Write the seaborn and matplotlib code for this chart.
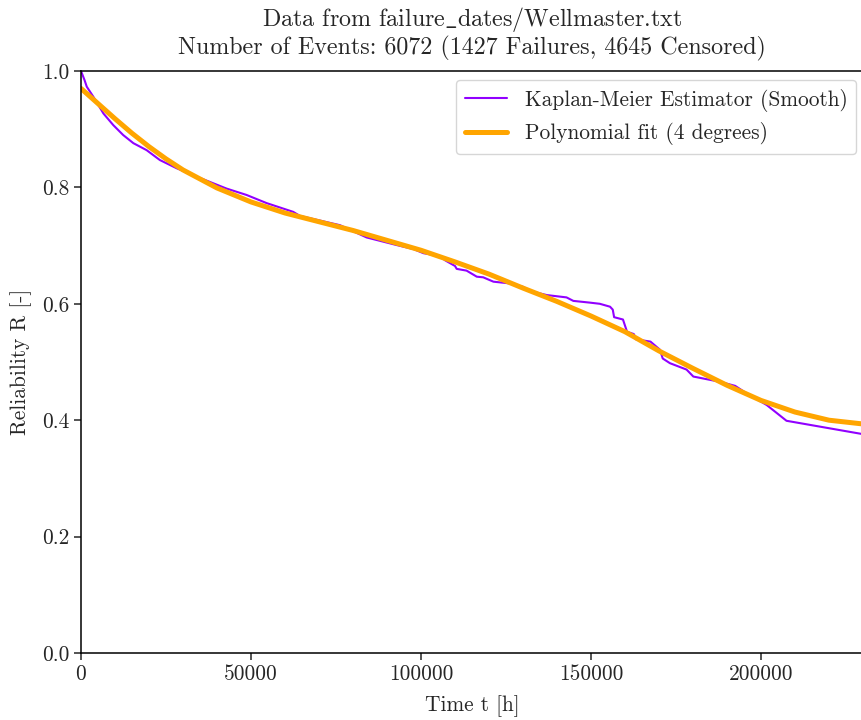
import numpy as np
import pandas as pd
import matplotlib
matplotlib.use("Agg")
import matplotlib.pyplot as plt
import seaborn as sns

# Kaplan-Meier estimator (smoothed)
km_time = [0, 1000, 1700, 3600, 6600, 9500, 12400, 15400, 19300, 23200, 28100,
           33000, 37000, 42800, 48700, 54600, 62400, 64400, 76200, 84000, 92800,
           97800, 100700, 105600, 107000, 110000, 110500, 113400, 116400, 118300,
           121300, 126200, 130100, 132100, 137000, 142800, 144800, 149700, 152600,
           155600, 156400, 156800, 159400, 160600, 162600, 163200, 167500, 170300,
           171100, 173200, 178100, 180100, 187900, 192400, 195800, 201700, 207500,
           230000]
km_rel = [1.0, 0.985, 0.973, 0.956, 0.927, 0.907, 0.890, 0.876, 0.864, 0.847, 0.833,
          0.821, 0.8115, 0.798, 0.787, 0.773, 0.758, 0.751, 0.735, 0.714, 0.701,
          0.694, 0.687, 0.682, 0.675, 0.665, 0.660, 0.657, 0.6466, 0.6455,
          0.638, 0.635, 0.629, 0.622, 0.615, 0.611, 0.605, 0.602, 0.600,
          0.595, 0.590, 0.577, 0.573, 0.552, 0.548, 0.539, 0.535, 0.521,
          0.506, 0.498, 0.487, 0.475, 0.466, 0.459, 0.446, 0.426, 0.399,
          0.376]

# Polynomial fit (4 degrees)
fit_time = [0, 5000, 10000, 15000, 20000, 25000, 30000, 40000, 50000, 60000,
            70000, 80000, 90000, 100000, 110000, 120000, 130000, 140000, 150000,
            160000, 170000, 180000, 190000, 200000, 210000, 220000, 230000]
fit_rel = [0.970, 0.944, 0.918, 0.893, 0.870, 0.849, 0.830, 0.799, 0.775, 0.756,
           0.741, 0.726, 0.709, 0.692, 0.672, 0.651, 0.627, 0.604, 0.579,
           0.552, 0.519, 0.489, 0.460, 0.434, 0.414, 0.400, 0.3935]

title_lines = [r"Data from failure$\_$dates/Wellmaster.txt",
               "Number of Events: 6072 (1427 Failures, 4645 Censored)"]

sns.set_style("ticks")
plt.rcParams["font.family"] = ["cmr10", "DejaVu Serif"]
plt.rcParams["mathtext.fontset"] = "cm"
plt.rcParams["axes.formatter.use_mathtext"] = True
plt.rcParams["axes.unicode_minus"] = False

fs = 15.4
fig = plt.figure(figsize=(8.62, 7.2), dpi=100)
ax = fig.add_axes([81 / 862, 67 / 720, 782 / 862, 582 / 720])

km = pd.DataFrame({"t": km_time, "R": km_rel})
fit = pd.DataFrame({"t": fit_time, "R": fit_rel})

sns.lineplot(data=km, x="t", y="R", ax=ax, color="#9100ff", lw=1.5,
             label="Kaplan-Meier Estimator (Smooth)", sort=False)
sns.lineplot(data=fit, x="t", y="R", ax=ax, color="orange", lw=3.6,
             label="Polynomial fit (4 degrees)", sort=False)

ax.set_xlim(0, 230000)
ax.set_ylim(0, 1.0)
ax.set_xticks([0, 50000, 100000, 150000, 200000])
ax.set_xticklabels(["0", "50000", "100000", "150000", "200000"])
ax.set_yticks([0.0, 0.2, 0.4, 0.6, 0.8, 1.0])
ax.set_yticklabels(["0.0", "0.2", "0.4", "0.6", "0.8", "1.0"])
ax.tick_params(labelsize=fs, length=5, width=1.1, direction="out")
for s in ax.spines.values():
    s.set_linewidth(1.1)
    s.set_color("black")
ax.spines["right"].set_visible(False)

ax.set_xlabel("Time t [h]", fontsize=fs, labelpad=8)
ax.set_ylabel("Reliability R [-]", fontsize=fs, labelpad=7)
ax.set_title("\n".join(title_lines), fontsize=17.3, pad=12, linespacing=1.08)

leg = ax.legend(loc="upper right", fontsize=fs, frameon=True, fancybox=True,
                framealpha=0.8, edgecolor="#cccccc", handlelength=2.0,
                borderaxespad=0.0,
                bbox_to_anchor=(1 - 7 / 782, 1 - 9 / 582))

fig.savefig("out.png", dpi=100)
